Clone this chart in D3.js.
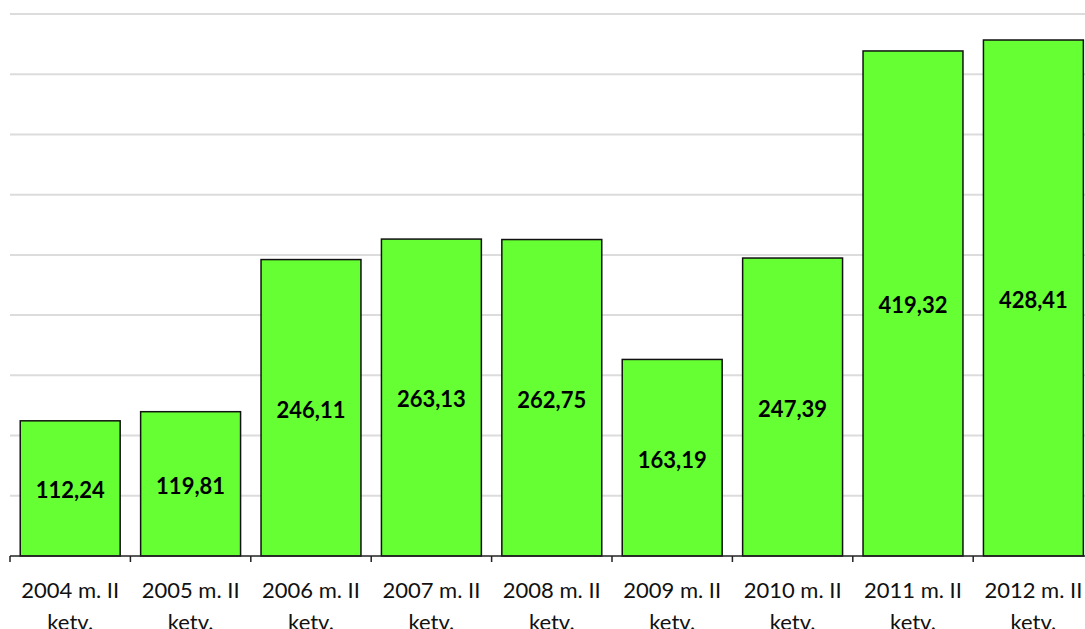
<!DOCTYPE html>
<html>
<head>
<meta charset="utf-8">
<script src="https://cdn.jsdelivr.net/npm/d3@7"></script>
<style>
  html, body { margin: 0; padding: 0; background: #fff; }
  svg { display: block; }
</style>
</head>
<body>
<svg id="chart" width="1085" height="629"></svg>
<script>
// categories and values
const years = ['2004', '2005', '2006', '2007', '2008', '2009', '2010', '2011', '2012'];
const labelsTop = years.map(y => y + ' m. II');
const labelsBottom = years.map(() => 'ketv.');
const values = [112.24, 119.81, 246.11, 263.13, 262.75, 163.19, 247.39, 419.32, 428.41];
const gridTicks = [0, 50, 100, 150, 200, 250, 300, 350, 400, 450];

const svg = d3.select('#chart');

// plot box, the right side runs off the window like in the original
const plotLeft = 10, plotBase = 556, plotTop = 14, step = 120.4;

const x = d3.scaleBand()
  .domain(years)
  .range([plotLeft, plotLeft + step * years.length])
  .paddingInner(0.17)
  .paddingOuter(0.085);

const y = d3.scaleLinear()
  .domain([0, 450])
  .range([plotBase, plotTop]);

// horizontal gridlines
svg.append('g').attr('class', 'grid')
  .selectAll('line')
  .data(gridTicks.filter(d => d > 0))
  .enter().append('line')
  .attr('x1', plotLeft)
  .attr('x2', 1085)
  .attr('y1', d => y(d))
  .attr('y2', d => y(d))
  .attr('stroke', '#dcdcdc')
  .attr('stroke-width', 2);

// bars
svg.append('g').selectAll('rect')
  .data(values)
  .enter().append('rect')
  .attr('x', (d, i) => x(years[i]))
  .attr('y', d => y(d))
  .attr('width', x.bandwidth())
  .attr('height', d => plotBase - y(d))
  .attr('fill', '#66ff33')
  .attr('stroke', '#111')
  .attr('stroke-width', 1.5);

// value labels in the middle of each bar
svg.append('g').selectAll('text')
  .data(values)
  .enter().append('text')
  .attr('x', (d, i) => x(years[i]) + x.bandwidth() / 2)
  .attr('y', d => (y(d) + plotBase) / 2)
  .attr('dy', '0.45em')
  .attr('text-anchor', 'middle')
  .attr('font-family', 'Lato, "Open Sans", sans-serif')
  .attr('font-weight', 'bold')
  .attr('font-size', 22)
  .attr('fill', '#000')
  .text(d => d.toFixed(2).replace('.', ','));

// x axis: line plus ticks between the bands
const gap = (x.step() - x.bandwidth()) / 2;
const tickPos = years.map(d => x(d) - gap).concat([x(years[years.length - 1]) + x.bandwidth() + gap]);

const axis = svg.append('g').attr('class', 'x-axis');
axis.append('line')
  .attr('x1', plotLeft)
  .attr('x2', 1085)
  .attr('y1', plotBase)
  .attr('y2', plotBase)
  .attr('stroke', '#222')
  .attr('stroke-width', 1.5);
axis.selectAll('.tick')
  .data(tickPos)
  .enter().append('line')
  .attr('class', 'tick')
  .attr('x1', d => d)
  .attr('x2', d => d)
  .attr('y1', plotBase)
  .attr('y2', plotBase + 6)
  .attr('stroke', '#222')
  .attr('stroke-width', 1.5);

// category labels on two lines; the second line is clipped by the window in the original
const cat = axis.selectAll('text')
  .data(years)
  .enter().append('text')
  .attr('x', d => x(d) + x.bandwidth() / 2)
  .attr('y', 598)
  .attr('text-anchor', 'middle')
  .attr('font-family', 'Lato, "Open Sans", sans-serif')
  .attr('font-size', 22)
  .attr('fill', '#111');
cat.append('tspan')
  .attr('x', d => x(d) + x.bandwidth() / 2)
  .text((d, i) => labelsTop[i]);
cat.append('tspan')
  .attr('x', d => x(d) + x.bandwidth() / 2)
  .attr('dy', 32)
  .text((d, i) => labelsBottom[i]);
</script>
</body>
</html>
